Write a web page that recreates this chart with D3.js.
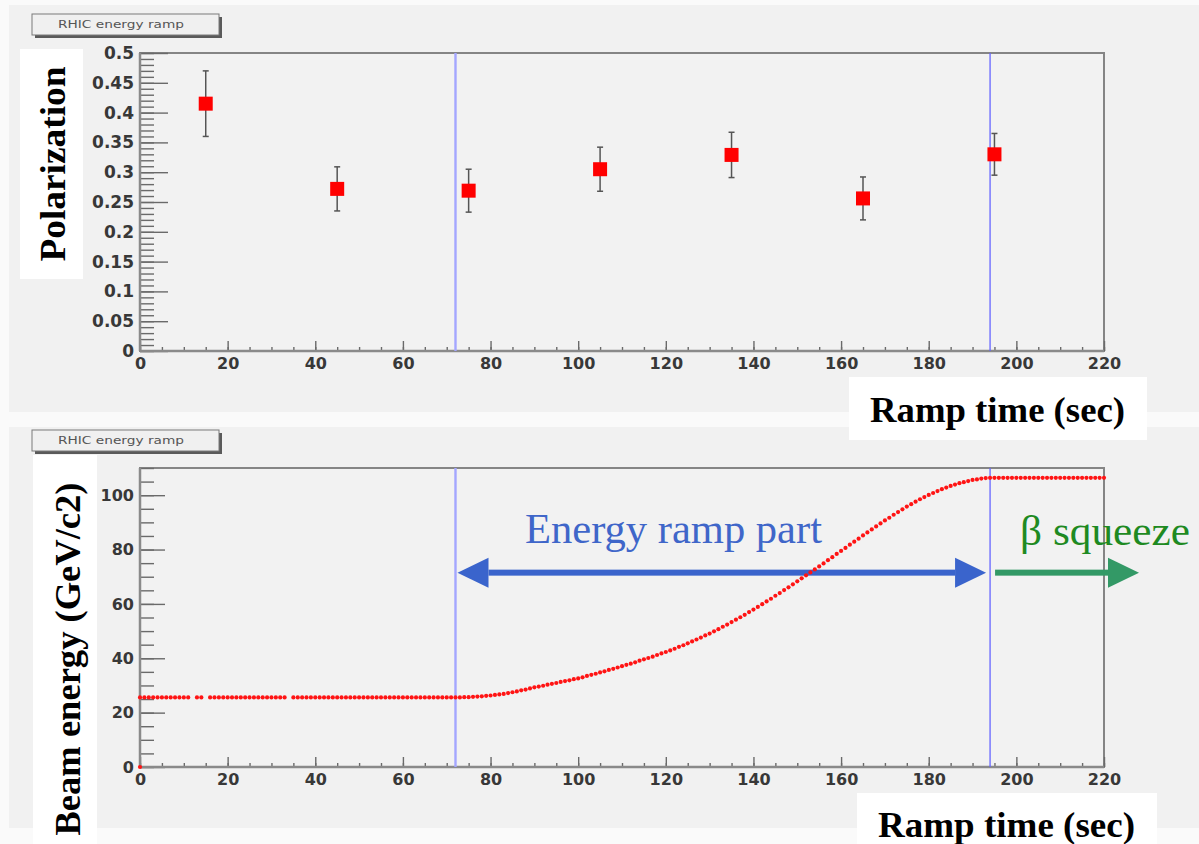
<!DOCTYPE html>
<html>
<head>
<meta charset="utf-8">
<script src="https://cdn.jsdelivr.net/npm/d3@7"></script>
<style>
  body { margin: 0; background: #fafafa; }
  svg { display: block; }
  .axis path.domain { display: none; }
  .axis line { stroke: #6a6a6a; stroke-width: 1.4px; }
  .axis text { font-family: "DejaVu Sans", sans-serif; font-weight: bold; font-size: 16px; fill: #383838; }
  .title-box text { font-family: "DejaVu Sans", sans-serif; font-size: 11px; fill: #555; }
  .axis-title { font-family: "Liberation Serif", "Times New Roman", serif; font-weight: bold; font-size: 36px; fill: #000; }
  .note { font-family: "Liberation Serif", "Times New Roman", serif; font-size: 42px; }
</style>
</head>
<body>
<div id="chart"></div>
<script>
// polarization measurements during the ramp
const polTime = [15, 45, 75, 105, 135, 165, 195];
const polValue = [0.415, 0.272, 0.269, 0.305, 0.329, 0.256, 0.330];
const polError = [0.055, 0.037, 0.036, 0.037, 0.038, 0.036, 0.035];

// beam energy readings (sec, GeV/c2)
const rampTime = [
  0, 0, 1, 2, 3, 4, 5, 6, 7, 8, 9, 10, 11, 13, 14,
  16, 17, 18, 19, 20, 21, 22, 23, 24, 25, 26, 27, 28, 29, 30, 31, 32, 33,
  35, 36, 37, 38, 39, 40, 41, 42, 43, 44, 45, 46, 47, 48, 49, 50, 51, 52, 53,
  54, 55, 56, 57, 58, 59, 60, 61, 62, 63, 64, 65, 66, 67, 68, 69, 70, 71,
  72, 73, 74, 75, 76, 77, 78, 79, 80, 81,
  82, 83, 84, 85, 86, 87, 88, 89, 90, 91,
  92, 93, 94, 95, 96, 97, 98, 99, 100, 101,
  102, 103, 104, 105, 106, 107, 108, 109, 110, 111,
  112, 113, 114, 115, 116, 117, 118, 119, 120, 121,
  122, 123, 124, 125, 126, 127, 128, 129, 130, 131,
  132, 133, 134, 135, 136, 137, 138, 139, 140, 141,
  142, 143, 144, 145, 146, 147, 148, 149, 150, 151,
  152, 153, 154, 155, 156, 157, 158, 159, 160, 161,
  162, 163, 164, 165, 166, 167, 168, 169, 170, 171,
  172, 173, 174, 175, 176, 177, 178, 179, 180, 181,
  182, 183, 184, 185, 186, 187, 188, 189, 190, 191,
  192, 193, 194, 195, 196, 197, 198, 199, 200, 201,
  202, 203, 204, 205, 206, 207, 208, 209, 210, 211,
  212, 213, 214, 215, 216, 217, 218, 219, 220
];
const rampEnergy = [
  0, 25.6, 25.6, 25.6, 25.6, 25.6, 25.6, 25.6, 25.6, 25.6, 25.6, 25.6, 25.6, 25.6, 25.6,
  25.6, 25.6, 25.6, 25.6, 25.6, 25.6, 25.6, 25.6, 25.6, 25.6, 25.6, 25.6, 25.6, 25.6, 25.6, 25.6, 25.6, 25.6,
  25.6, 25.6, 25.6, 25.6, 25.6, 25.6, 25.6, 25.6, 25.6, 25.6, 25.6, 25.6, 25.6, 25.6, 25.6, 25.6, 25.6, 25.6, 25.6,
  25.6, 25.6, 25.6, 25.6, 25.6, 25.6, 25.6, 25.6, 25.6, 25.6, 25.6, 25.6, 25.6, 25.6, 25.6, 25.6, 25.6, 25.6,
  25.6, 25.6, 25.7, 25.7, 25.8, 25.9, 26.0, 26.2, 26.3, 26.5,
  26.7, 26.9, 27.2, 27.5, 27.8, 28.2, 28.5, 28.9, 29.3, 29.6,
  29.9, 30.3, 30.6, 30.9, 31.3, 31.6, 31.9, 32.3, 32.6, 33.0,
  33.5, 33.9, 34.3, 34.8, 35.2, 35.7, 36.1, 36.6, 37.1, 37.6,
  38.0, 38.5, 39.1, 39.6, 40.1, 40.6, 41.2, 41.8, 42.3, 42.9,
  43.5, 44.2, 44.8, 45.5, 46.2, 46.9, 47.6, 48.4, 49.1, 49.9,
  50.7, 51.6, 52.4, 53.3, 54.2, 55.1, 56.0, 57.0, 57.9, 58.9,
  59.9, 60.9, 61.9, 63.0, 64.0, 65.1, 66.1, 67.2, 68.3, 69.4,
  70.5, 71.6, 72.7, 73.8, 74.9, 76.1, 77.2, 78.4, 79.5, 80.6,
  81.8, 82.9, 84.0, 85.2, 86.3, 87.4, 88.5, 89.6, 90.7, 91.7,
  92.8, 93.8, 94.8, 95.8, 96.7, 97.6, 98.5, 99.3, 100.1, 100.8,
  101.5, 102.2, 102.8, 103.4, 103.9, 104.4, 104.8, 105.2, 105.6, 105.8,
  106.1, 106.3, 106.4, 106.4, 106.4, 106.4, 106.4, 106.4, 106.4, 106.4,
  106.4, 106.4, 106.4, 106.4, 106.4, 106.4, 106.4, 106.4, 106.4, 106.4,
  106.4, 106.4, 106.4, 106.4, 106.4, 106.4, 106.4, 106.4, 106.4
];

const timeTicks = [0, 20, 40, 60, 80, 100, 120, 140, 160, 180, 200, 220];
const polTicks = [0, 0.05, 0.1, 0.15, 0.2, 0.25, 0.3, 0.35, 0.4, 0.45, 0.5];
const energyTicks = [0, 20, 40, 60, 80, 100];
const phaseEdges = [72, 194];   // start / end of the energy ramp

const width = 1199, height = 844;
const plotLeft = 140, plotRight = 1104;

const svg = d3.select('#chart').append('svg')
  .attr('width', width)
  .attr('height', height);

svg.append('rect').attr('width', width).attr('height', height).attr('fill', '#fafafa');

// the two ROOT canvases
svg.append('rect').attr('x', 9).attr('y', 5).attr('width', width - 9).attr('height', 407).attr('fill', '#f1f1f1');
svg.append('rect').attr('x', 9).attr('y', 427).attr('width', width - 9).attr('height', 401).attr('fill', '#f1f1f1');

const x = d3.scaleLinear().domain([0, 220]).range([plotLeft, plotRight]);
const yPol = d3.scaleLinear().domain([0, 0.5]).range([351, 53]);
const yEnergy = d3.scaleLinear().domain([0, 110]).range([767, 468]);

function titleBox(top) {
  const g = svg.append('g').attr('class', 'title-box');
  g.append('rect').attr('x', 35).attr('y', top + 3).attr('width', 187).attr('height', 21).attr('fill', '#5a5a5a');
  g.append('rect').attr('x', 32).attr('y', top).attr('width', 187).attr('height', 21)
    .attr('fill', '#f0f0f0').attr('stroke', '#7a7a7a').attr('stroke-width', 1);
  g.append('text').attr('x', 121).attr('y', top + 14).attr('text-anchor', 'middle')
    .attr('textLength', 126).attr('lengthAdjust', 'spacingAndGlyphs')
    .text('RHIC energy ramp');
}

function drawFrame(y, yMajor, yMinor, yTickLen, yLabelSize) {
  const [yBottom, yTop] = y.range();
  svg.append('rect')
    .attr('x', plotLeft).attr('y', yTop)
    .attr('width', plotRight - plotLeft).attr('height', yBottom - yTop)
    .attr('fill', '#f2f2f2').attr('stroke', '#858585').attr('stroke-width', 2);

  // minor ticks
  svg.append('g').attr('class', 'axis')
    .attr('transform', `translate(${plotLeft},0)`)
    .call(d3.axisLeft(y).tickValues(yMinor).tickSize(-yTickLen[1]).tickFormat(''));
  svg.append('g').attr('class', 'axis')
    .attr('transform', `translate(0,${yBottom})`)
    .call(d3.axisBottom(x).tickValues(d3.range(0, 221, 5)).tickSize(-4).tickFormat(''));

  // major ticks + labels
  svg.append('g').attr('class', 'axis')
    .attr('transform', `translate(${plotLeft},0)`)
    .call(d3.axisLeft(y).tickValues(yMajor).tickSize(-yTickLen[0]).tickPadding(6).tickFormat(d => d))
    .call(g => g.selectAll('text').attr('x', -6).style('font-size', yLabelSize + 'px'));
  svg.append('g').attr('class', 'axis')
    .attr('transform', `translate(0,${yBottom})`)
    .call(d3.axisBottom(x).tickValues(timeTicks).tickSize(-10).tickPadding(6).tickFormat(d => d))
    .call(g => g.selectAll('text').attr('y', 7));

  // heavier axis lines
  svg.append('line').attr('x1', plotLeft).attr('x2', plotLeft).attr('y1', yTop).attr('y2', yBottom)
    .attr('stroke', '#8a8a8a').attr('stroke-width', 2.5);
  svg.append('line').attr('x1', plotLeft).attr('x2', plotRight).attr('y1', yBottom).attr('y2', yBottom)
    .attr('stroke', '#8a8a8a').attr('stroke-width', 2.5);

  // ramp boundaries
  svg.append('g').selectAll('line').data(phaseEdges).join('line')
    .attr('x1', d => x(d)).attr('x2', d => x(d))
    .attr('y1', yTop).attr('y2', yBottom)
    .attr('stroke', (d, i) => i === 0 ? '#a4a6ff' : '#6464ff')
    .attr('stroke-width', (d, i) => i === 0 ? 2.4 : 1.3);
}

// ---- top panel: polarization ----
titleBox(14);
drawFrame(yPol, polTicks, d3.range(0, 0.501, 0.01), [28, 14], 17);

const pol = d3.zip(polTime, polValue, polError);
const errG = svg.append('g').attr('stroke', '#555').attr('stroke-width', 1.5);
errG.selectAll('line.bar').data(pol).join('line').attr('class', 'bar')
  .attr('x1', d => x(d[0])).attr('x2', d => x(d[0]))
  .attr('y1', d => yPol(d[1] + d[2])).attr('y2', d => yPol(d[1] - d[2]));
errG.selectAll('line.capTop').data(pol).join('line').attr('class', 'capTop')
  .attr('x1', d => x(d[0]) - 3).attr('x2', d => x(d[0]) + 3)
  .attr('y1', d => yPol(d[1] + d[2])).attr('y2', d => yPol(d[1] + d[2]));
errG.selectAll('line.capBot').data(pol).join('line').attr('class', 'capBot')
  .attr('x1', d => x(d[0]) - 3).attr('x2', d => x(d[0]) + 3)
  .attr('y1', d => yPol(d[1] - d[2])).attr('y2', d => yPol(d[1] - d[2]));
svg.append('g').selectAll('rect').data(pol).join('rect')
  .attr('x', d => x(d[0]) - 7).attr('y', d => yPol(d[1]) - 7)
  .attr('width', 14).attr('height', 14)
  .attr('fill', '#ff0000');

// axis titles on white patches
svg.append('rect').attr('x', 20).attr('y', 49).attr('width', 63).attr('height', 230).attr('fill', '#fff');
svg.append('text').attr('class', 'axis-title')
  .attr('transform', 'translate(65,164) rotate(-90)')
  .attr('text-anchor', 'middle')
  .attr('textLength', 195).attr('lengthAdjust', 'spacingAndGlyphs')
  .text('Polarization');

svg.append('rect').attr('x', 849).attr('y', 377).attr('width', 298).attr('height', 63).attr('fill', '#fff');
svg.append('text').attr('class', 'axis-title')
  .attr('x', 870).attr('y', 422)
  .attr('textLength', 255).attr('lengthAdjust', 'spacingAndGlyphs')
  .text('Ramp time (sec)');

// ---- bottom panel: beam energy ----
titleBox(430);
drawFrame(yEnergy, energyTicks, d3.range(0, 111, 5), [25, 14], 16);

// annotation arrows
const arrowY = yEnergy(71.5);
function arrow(x0, x1, color, heads) {
  const g = svg.append('g').attr('fill', color);
  const head = 31, half = 15, thick = 3;
  const a = heads.includes('left') ? x0 + head : x0;
  const b = heads.includes('right') ? x1 - head : x1;
  g.append('rect').attr('x', a).attr('y', arrowY - thick).attr('width', b - a).attr('height', thick * 2);
  if (heads.includes('left')) {
    g.append('path').attr('d', `M${x0},${arrowY} L${x0 + head},${arrowY - half} L${x0 + head},${arrowY + half} Z`);
  }
  if (heads.includes('right')) {
    g.append('path').attr('d', `M${x1},${arrowY} L${x1 - head},${arrowY - half} L${x1 - head},${arrowY + half} Z`);
  }
}
arrow(x(phaseEdges[0]) + 2, x(phaseEdges[1]) - 4, '#3a64cc', ['left', 'right']);
arrow(x(phaseEdges[1]) + 5, 1139, '#339966', ['right']);

svg.append('text').attr('class', 'note')
  .attr('x', 525).attr('y', 543).attr('fill', '#3f66c9')
  .attr('textLength', 297).attr('lengthAdjust', 'spacingAndGlyphs')
  .text('Energy ramp part');
svg.append('text').attr('class', 'note')
  .attr('x', 1020).attr('y', 545).attr('fill', '#1e8a22')
  .attr('textLength', 170).attr('lengthAdjust', 'spacingAndGlyphs')
  .text('β squeeze');

svg.append('g').selectAll('circle').data(d3.zip(rampTime, rampEnergy)).join('circle')
  .attr('cx', d => x(d[0])).attr('cy', d => yEnergy(d[1]))
  .attr('r', 2.1)
  .attr('fill', '#ff1414');

svg.append('rect').attr('x', 33).attr('y', 455).attr('width', 64).attr('height', height - 455).attr('fill', '#fff');
svg.append('text').attr('class', 'axis-title')
  .attr('transform', 'translate(80,659) rotate(-90)')
  .attr('text-anchor', 'middle')
  .attr('textLength', 353).attr('lengthAdjust', 'spacingAndGlyphs')
  .text('Beam energy (GeV/c2)');

svg.append('rect').attr('x', 857).attr('y', 793).attr('width', 300).attr('height', height - 793).attr('fill', '#fff');
svg.append('text').attr('class', 'axis-title')
  .attr('x', 878).attr('y', 837)
  .attr('textLength', 257).attr('lengthAdjust', 'spacingAndGlyphs')
  .text('Ramp time (sec)');
</script>
</body>
</html>
